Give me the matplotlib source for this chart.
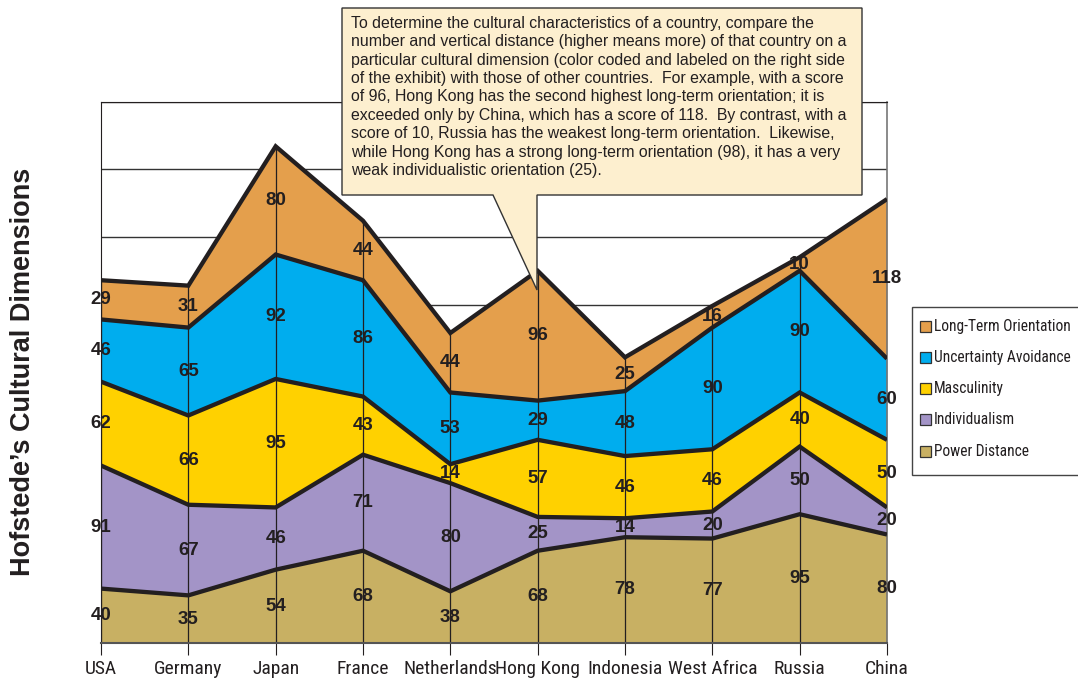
import matplotlib
matplotlib.use("Agg")
import matplotlib.pyplot as plt
import numpy as np
from matplotlib.patches import Polygon, Rectangle

# Hofstede scores by country
countries = ["USA", "Germany", "Japan", "France", "Netherlands",
             "Hong Kong", "Indonesia", "West Africa", "Russia", "China"]
power_distance = [40, 35, 54, 68, 38, 68, 78, 77, 95, 80]
individualism = [91, 67, 46, 71, 80, 25, 14, 20, 50, 20]
masculinity = [62, 66, 95, 43, 14, 57, 46, 46, 40, 50]
uncertainty_avoidance = [46, 65, 92, 86, 53, 29, 48, 90, 90, 60]
long_term_orientation = [29, 31, 80, 44, 44, 96, 25, 16, 10, 118]

dimension_names = ["Power Distance", "Individualism", "Masculinity",
                   "Uncertainty Avoidance", "Long-Term Orientation"]
dimension_colors = ["#C8B063", "#A394C7", "#FFD100", "#00ADEE", "#E49F4C"]

note_lines = [
    "To determine the cultural characteristics of a country, compare the",
    "number and vertical distance (higher means more) of that country on a",
    "particular cultural dimension (color coded and labeled on the right side",
    "of the exhibit) with those of other countries.  For example, with a score",
    "of 96, Hong Kong has the second highest long-term orientation; it is",
    "exceeded only by China, which has a score of 118.  By contrast, with a",
    "score of 10, Russia has the weakest long-term orientation.  Likewise,",
    "while Hong Kong has a strong long-term orientation (98), it has a very",
    "weak individualistic orientation (25).",
]

INK = "#231F20"
SANS = ["Liberation Sans", "DejaVu Sans"]
NARROW = ["Roboto Condensed", "Archivo Narrow", "PT Sans Narrow",
          "Liberation Sans", "DejaVu Sans"]

W, H = 1078, 682
fig = plt.figure(figsize=(W / 100, H / 100), dpi=100)


def fx(px):
    return px / W


def fy(py):
    return 1 - py / H


ax = fig.add_axes([fx(101), fy(642.7), (887 - 101) / W, (642.7 - 101.7) / H])

x = np.arange(len(countries))
layers = np.array([power_distance, individualism, masculinity,
                   uncertainty_avoidance, long_term_orientation], dtype=float)
tops = np.cumsum(layers, axis=0)
bottoms = np.vstack([np.zeros(len(x)), tops[:-1]])

# stacked bands
for i in range(len(layers)):
    ax.fill_between(x, bottoms[i], tops[i], color=dimension_colors[i],
                    lw=0, zorder=2)

# thin country guides up to the top of the stack
ax.vlines(x, 0, tops[-1], colors=INK, lw=0.9, zorder=2.5)

# heavy outlines between bands
for i in range(len(layers)):
    ax.plot(x, tops[i], color=INK, lw=3.1, solid_joinstyle="miter",
            solid_capstyle="butt", zorder=3)

# value labels centred in each band
for i in range(len(layers)):
    for j in range(len(x)):
        ax.text(x[j], (bottoms[i, j] + tops[i, j]) / 2, f"{int(layers[i, j])}",
                ha="center", va="center", fontsize=13.5, fontweight="bold",
                color=INK, family=SANS, zorder=5)

ax.set_xlim(0, len(x) - 1)
ax.set_ylim(0, 400)
ax.set_yticks(np.arange(0, 401, 50))
ax.yaxis.grid(True, color="#333333", lw=1.0)
ax.set_axisbelow(True)
ax.tick_params(axis="y", which="major", length=0, labelleft=False)
ax.set_yticks([0], minor=True)
ax.tick_params(axis="y", which="minor", length=8.6, width=1.5,
               color="#555555", direction="out", labelleft=False)

ax.set_xticks(x)
ax.set_xticklabels(countries, family=NARROW, fontsize=14, color=INK)
ax.tick_params(axis="x", length=8.6, width=0.8, color=INK, pad=3.5,
               direction="out")

ax.spines["bottom"].set_color("#555555")
ax.spines["bottom"].set_linewidth(1.5)
ax.spines["left"].set_color(INK)
ax.spines["left"].set_linewidth(0.8)
ax.spines["top"].set_color(INK)
ax.spines["top"].set_linewidth(0.8)
ax.spines["right"].set_color("#777777")
ax.spines["right"].set_linewidth(1.2)

fig.text(fx(23), fy(372), "Hofstede\u2019s Cultural Dimensions", rotation=90,
         ha="center", va="center", fontsize=19.5, fontweight="bold",
         color=INK, family=SANS)

# callout box with its pointer towards Hong Kong
callout = [(342, 8), (862, 8), (862, 195), (537, 195), (537, 290),
           (493, 195), (342, 195)]
fig.add_artist(Polygon([(fx(a), fy(b)) for a, b in callout], closed=True,
                       transform=fig.transFigure, facecolor="#FDEFCF",
                       edgecolor="#333333", lw=1.0, zorder=10))
fig.text(fx(351), fy(16), "\n".join(note_lines), ha="left", va="top",
         fontsize=11.4, linespacing=1.28, color=INK, family=SANS, zorder=11)

# legend panel
fig.add_artist(Rectangle((fx(912), fy(475)), fx(1090) - fx(912),
                         fy(307) - fy(475), transform=fig.transFigure,
                         facecolor="white", edgecolor="#444444", lw=1.0,
                         zorder=10))
row0, row_step = 326, 31.3
for k, idx in enumerate(reversed(range(len(dimension_names)))):
    cy = row0 + k * row_step
    fig.add_artist(Rectangle((fx(920), fy(cy + 5.5)), 11 / W, 11 / H,
                             transform=fig.transFigure,
                             facecolor=dimension_colors[idx],
                             edgecolor="#333333", lw=0.9, zorder=11))
    fig.text(fx(934), fy(cy), dimension_names[idx], ha="left", va="center",
             fontsize=11.2, color=INK, family=NARROW, zorder=11)

fig.savefig("out.png", dpi=100)
